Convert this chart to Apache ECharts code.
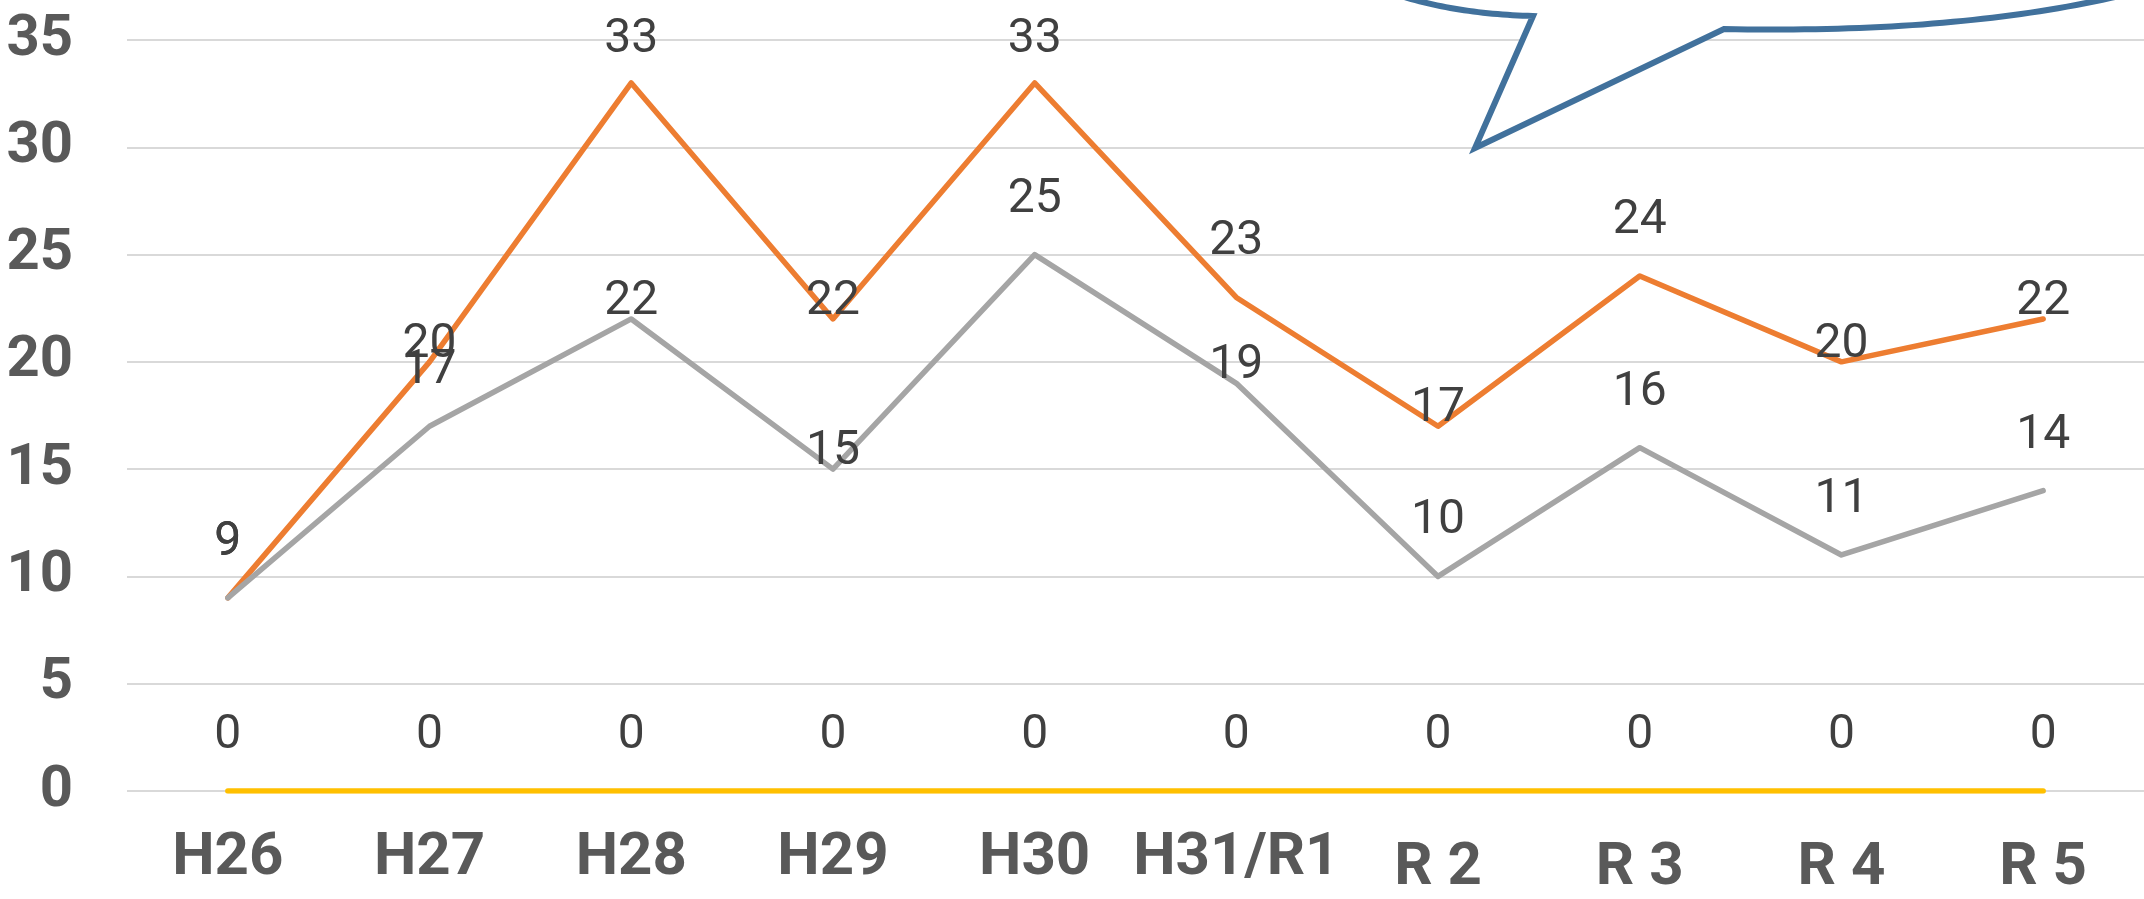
<!DOCTYPE html>
<html><head><meta charset="utf-8">
<script src="https://cdn.jsdelivr.net/npm/echarts@6/dist/echarts.min.js"></script>
<style>html,body{margin:0;padding:0;background:#fff}#c{width:2144px;height:899px}</style>
</head><body><div id="c"></div>
<script>
const categories = ['H26','H27','H28','H29','H30','H31/R1','R 2','R 3','R 4','R 5'];
const orangeValues = [9,20,33,22,33,23,17,24,20,22];
const grayValues = [9,17,22,15,25,19,10,16,11,14];
const yellowValues = [0,0,0,0,0,0,0,0,0,0];
const yTicks = [0,5,10,15,20,25,30,35];

// label layout: indices whose labels sit close to the line, and those pushed down by the plot top
const orangeNear = [1,3,6,8,9];
const grayNear = [2,3,5];
const orangeClamped = [2,4];

function mk(vals, near, clamped) {
  return vals.map((v,i)=>({value:v, label:{distance: near.includes(i) ? -7 : (clamped.includes(i) ? 19 : 31)}}));
}

// callout outline (decoration) built from quadratic curves
function quad(p0, c, p1, n) {
  const pts = [];
  for (let k = 0; k <= n; k++) {
    const t = k / n, a = (1-t)*(1-t), b = 2*(1-t)*t, d = t*t;
    pts.push([a*p0[0]+b*c[0]+d*p1[0], a*p0[1]+b*c[1]+d*p1[1]]);
  }
  return pts;
}
const calloutPts = [].concat(
  quad([1395,-6],[1455,14],[1533,16],30),
  [[1475,148]],
  quad([1724,29],[1960,34],[2128,-6],40),
  [[2144,-30],[1395,-30]]
);

const chart = echarts.init(document.getElementById('c'));
const lblStyle = {show:true, position:'top', fontFamily:'Roboto', fontSize:48, color:'#404040', distance:31};
function lineSeries(vals, near, clamped, color) {
  return {type:'line', data:mk(vals, near, clamped), symbol:'circle', symbolSize:0, showSymbol:true,
    lineStyle:{color:color, width:5.5, cap:'round', join:'round'}, itemStyle:{color:color}, label:lblStyle};
}
chart.setOption({
  animation:false,
  grid:{left:127, right:-9, top:40, bottom:100, containLabel:false},
  xAxis:{type:'category', data:categories, boundaryGap:true,
    axisLine:{show:false}, axisTick:{show:false}, splitLine:{show:false},
    axisLabel:{margin:38, interval:0, formatter:function(v){return v.startsWith('R ') ? '{r|'+v+'}' : '{h|'+v+'}';},
      rich:{h:{fontFamily:'Roboto', fontWeight:'bold', fontSize:60, color:'#595959'},
            r:{fontFamily:'Roboto', fontWeight:'bold', fontSize:60, color:'#595959', padding:[10,0,0,0]}}}},
  yAxis:{type:'value', min:yTicks[0], max:yTicks[yTicks.length-1], interval:yTicks[1]-yTicks[0],
    axisLine:{show:false}, axisTick:{show:false},
    axisLabel:{margin:54, fontFamily:'Roboto', fontWeight:'bold', fontSize:58, color:'#595959'},
    splitLine:{lineStyle:{color:'#D9D9D9', width:2}}},
  series:[
    lineSeries(orangeValues, orangeNear, orangeClamped, '#ED7D31'),
    lineSeries(grayValues, grayNear, [], '#A5A5A5'),
    lineSeries(yellowValues, [], [], '#FFC000')
  ],
  graphic:[{type:'polygon', z:100,
    shape:{points:calloutPts},
    style:{fill:'#fff', stroke:'#41719C', lineWidth:6, lineJoin:'miter'}}]
});
</script></body></html>
